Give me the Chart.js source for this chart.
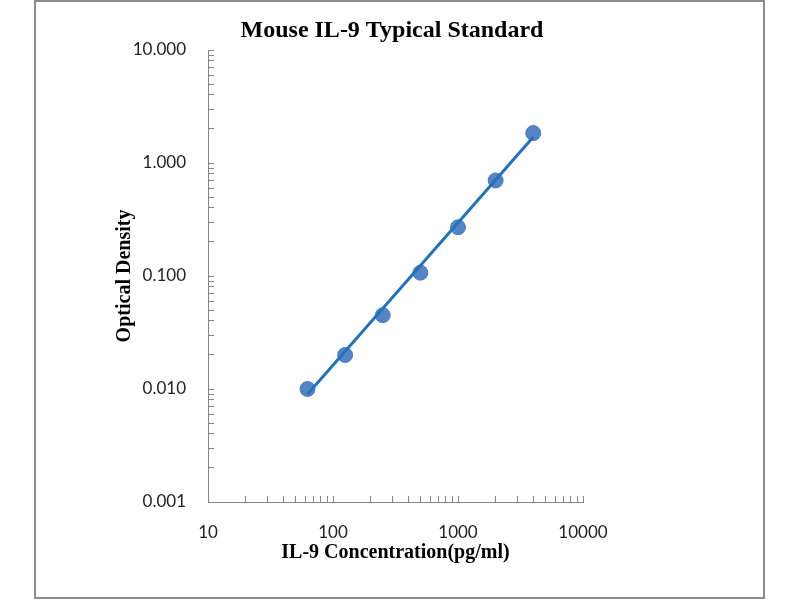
<!DOCTYPE html>
<html>
<head>
<meta charset="utf-8">
<style>
  html, body { margin: 0; padding: 0; background: #fff; }
  canvas { display: block; }
</style>
<script src="https://cdn.jsdelivr.net/npm/chart.js@4/dist/chart.umd.min.js"></script>
</head>
<body>
<canvas id="chart" width="800" height="600"></canvas>
<script>
// standard points
const concentration = [62.5, 125, 250, 500, 1000, 2000, 4000];
const opticalDensity = [0.010, 0.020, 0.045, 0.107, 0.270, 0.701, 1.84];

// trendline ends
const fitX = [62.5, 4000];
const fitY = [0.0090, 1.70];

// decade ticks
const xDecades = [10, 100, 1000, 10000];
const yDecades = [0.001, 0.01, 0.1, 1, 10];
const minorSteps = [1, 2, 3, 4, 5, 6, 7, 8, 9];

const axisColor = '#868686';

function logTicks(decades) {
  const list = [];
  decades.forEach((d, i) => {
    if (i === decades.length - 1) {
      list.push(d);
    } else {
      minorSteps.forEach(m => list.push(+(d * m).toPrecision(6)));
    }
  });
  return list.map(v => ({ value: v }));
}

const framePlugin = {
  id: 'frame',
  beforeDraw(chart) {
    const ctx = chart.ctx;
    ctx.save();
    ctx.fillStyle = '#fff';
    ctx.fillRect(0, 0, chart.width, chart.height);
    ctx.strokeStyle = '#8c8c8c';
    ctx.lineWidth = 2;
    ctx.strokeRect(35, 1, 729, 597);
    ctx.restore();
  },
  afterDraw(chart) {
    const ctx = chart.ctx;
    ctx.save();
    ctx.fillStyle = '#000';
    ctx.font = 'bold 24px "Liberation Serif"';
    ctx.textAlign = 'center';
    ctx.textBaseline = 'middle';
    ctx.fillText('Mouse IL-9 Typical Standard', 392, 31);
    ctx.restore();
  }
};

new Chart(document.getElementById('chart'), {
  type: 'scatter',
  data: {
    datasets: [
      {
        type: 'line',
        label: 'Fit',
        data: fitX.map((x, i) => ({ x: x, y: fitY[i] })),
        borderColor: '#2471b7',
        borderWidth: 3,
        pointRadius: 0,
        fill: false,
        order: 0,
      },
      {
        label: 'Standard',
        data: concentration.map((x, i) => ({ x: x, y: opticalDensity[i] })),
        backgroundColor: 'rgba(70,120,190,0.92)',
        borderColor: 'rgba(70,120,190,0.92)',
        pointRadius: 7.5,
        pointHoverRadius: 7.5,
        order: 1,
      },
    ],
  },
  options: {
    responsive: false,
    animation: false,
    layout: { padding: { left: 37, right: 217, top: 50, bottom: 0 } },
    plugins: {
      legend: { display: false },
      tooltip: { enabled: false },
      title: { display: false },
    },
    scales: {
      x: {
        type: 'logarithmic',
        position: 'bottom',
        min: 10,
        max: 10000,
        afterBuildTicks: scale => { scale.ticks = logTicks(xDecades); },
        afterFit: scale => { scale.height = 98; },
        grid: {
          drawOnChartArea: false,
          drawTicks: true,
          tickLength: -6,
          color: axisColor,
        },
        border: { display: true, color: axisColor, width: 1 },
        ticks: {
          autoSkip: false,
          maxRotation: 0,
          padding: 26,
          color: '#222',
          font: { family: 'Lato', size: 17 },
          callback: value => (xDecades.includes(value) ? String(value) : ''),
        },
        title: {
          display: true,
          text: 'IL-9 Concentration(pg/ml)',
          color: '#000',
          font: { family: 'Liberation Serif', size: 20, weight: 'bold' },
          padding: { top: 0, bottom: 35 },
        },
      },
      y: {
        type: 'logarithmic',
        position: 'left',
        min: 0.001,
        max: 10,
        afterBuildTicks: scale => { scale.ticks = logTicks(yDecades); },
        afterFit: scale => { scale.width = 171; },
        grid: {
          drawOnChartArea: false,
          drawTicks: true,
          tickLength: -6,
          color: axisColor,
        },
        border: { display: true, color: axisColor, width: 1 },
        ticks: {
          autoSkip: false,
          padding: 28,
          color: '#222',
          font: { family: 'Lato', size: 17 },
          callback: value => (yDecades.includes(value) ? value.toFixed(3) : ''),
        },
        title: {
          display: true,
          text: 'Optical Density',
          color: '#000',
          font: { family: 'Liberation Serif', size: 20, weight: 'bold' },
          padding: { top: 76, bottom: 0 },
        },
      },
    },
  },
  plugins: [framePlugin],
});
</script>
</body>
</html>
